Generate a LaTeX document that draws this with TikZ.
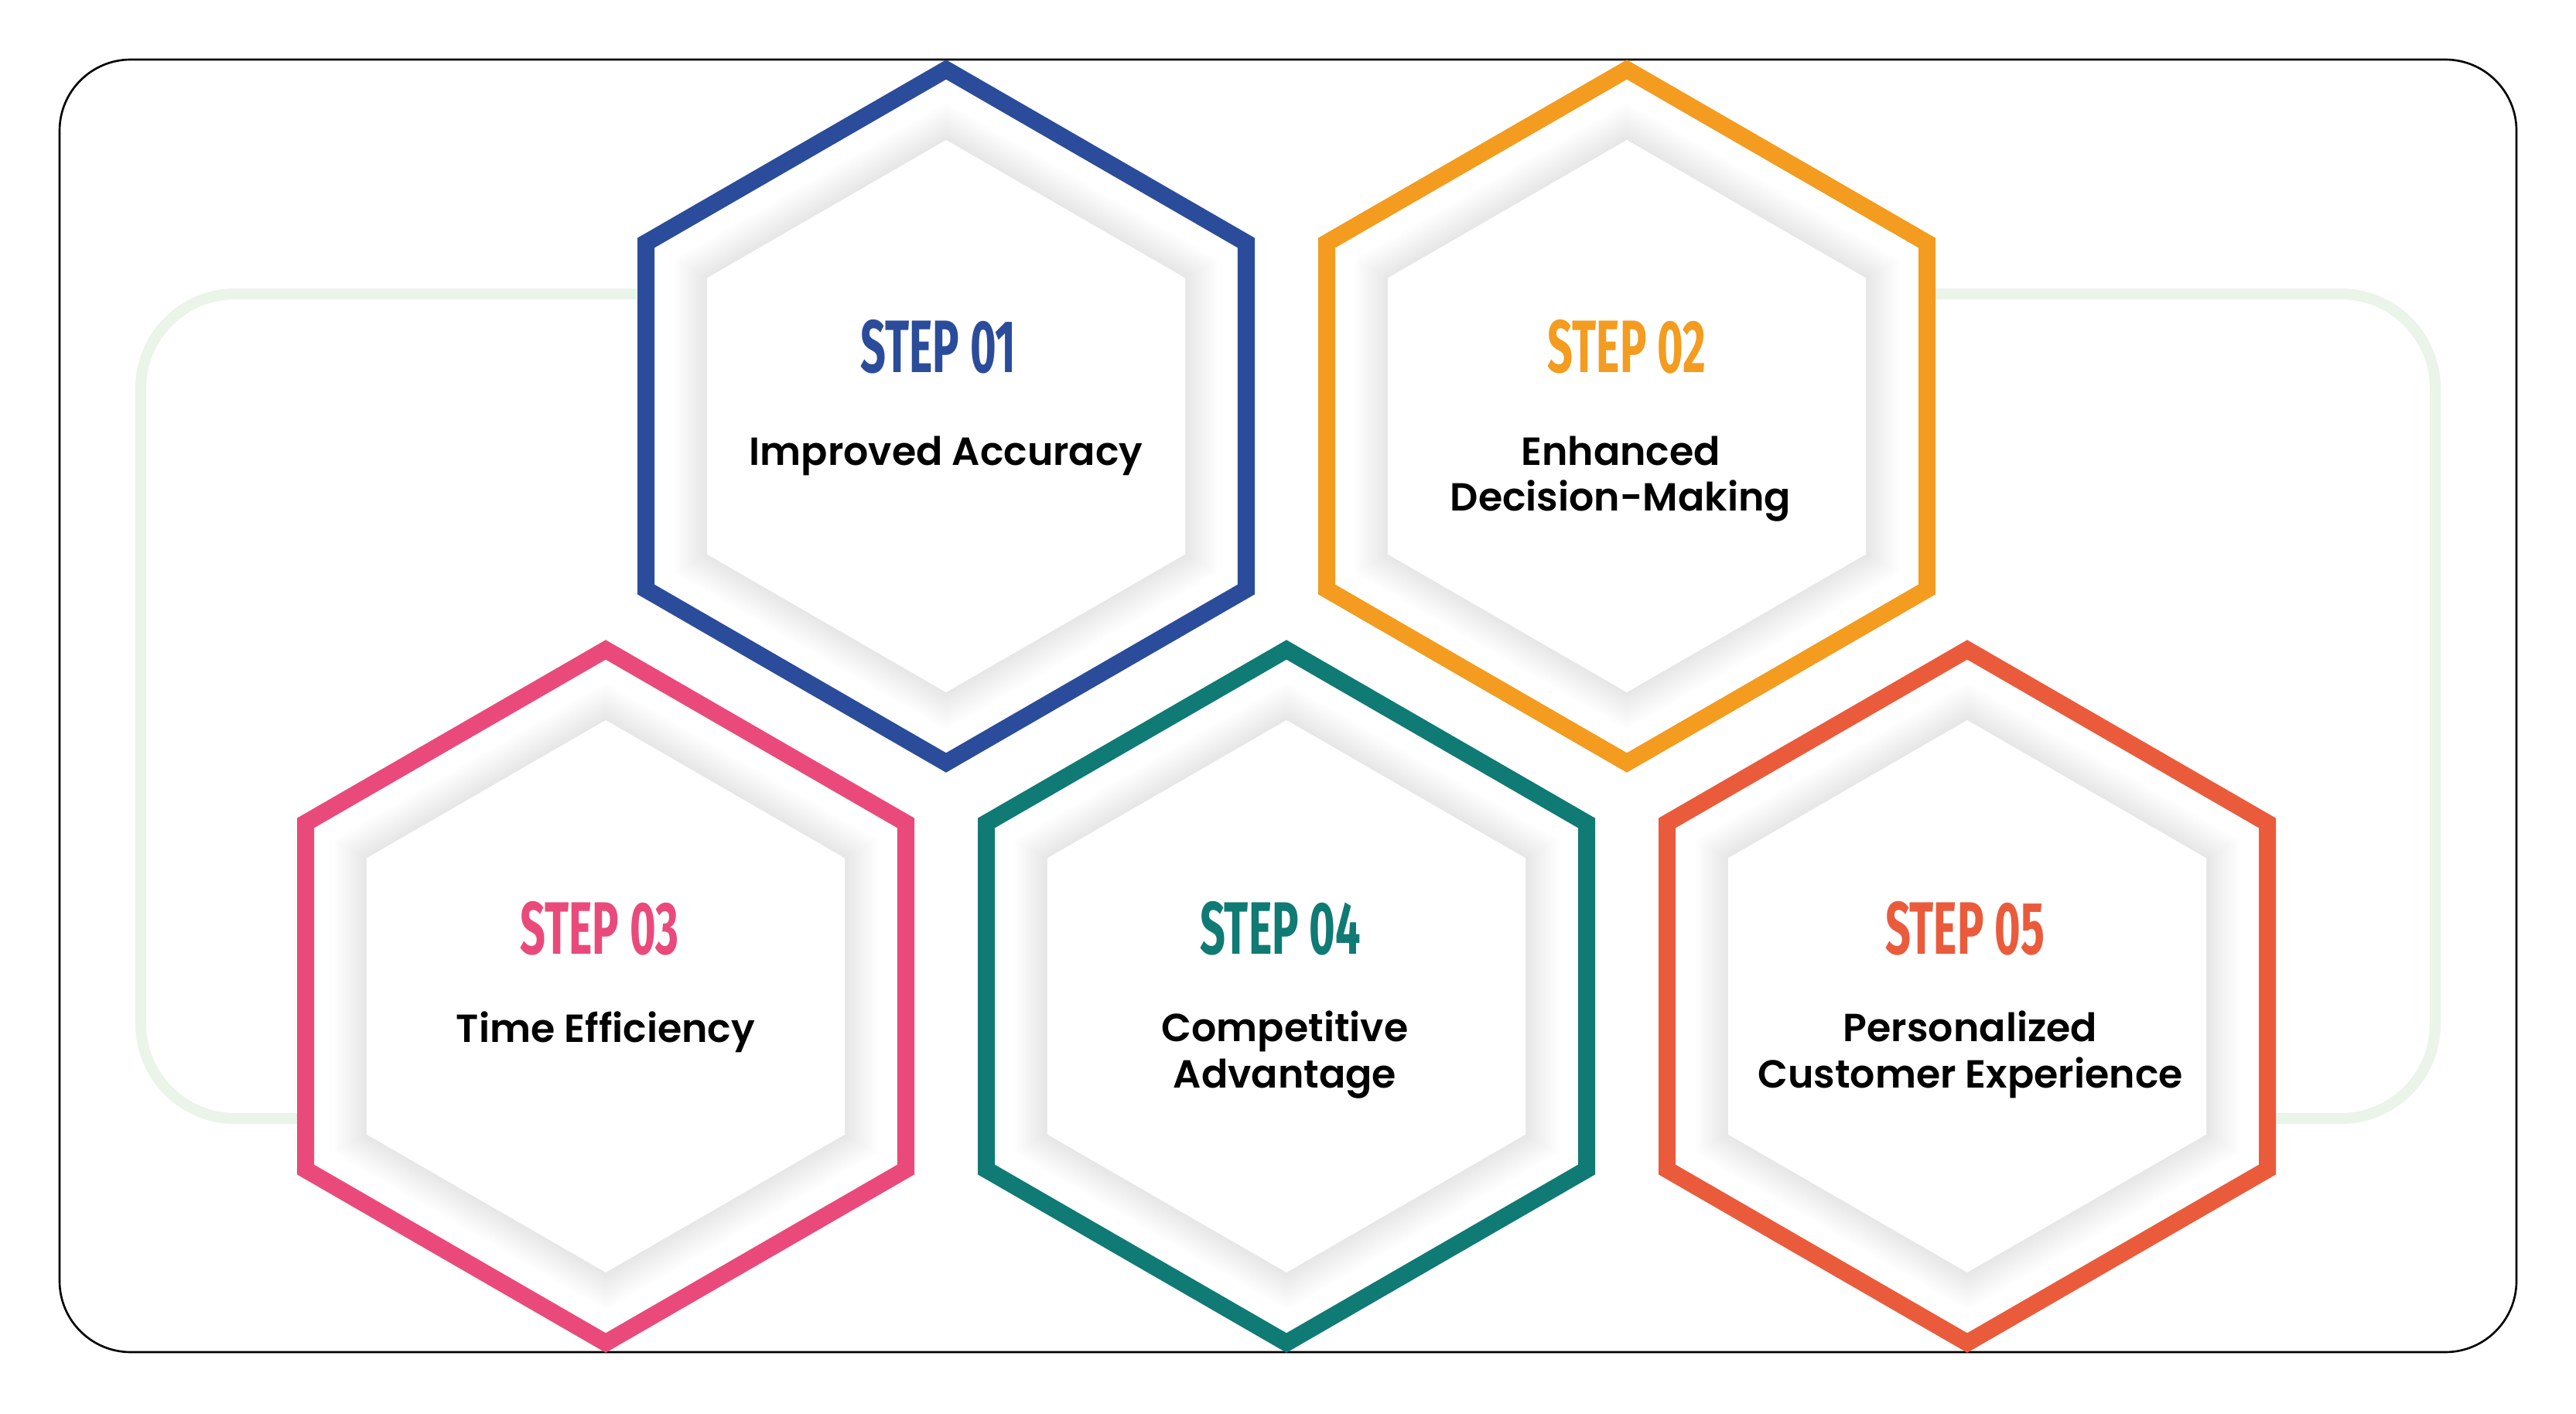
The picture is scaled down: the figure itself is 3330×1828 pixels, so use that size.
\documentclass[tikz,border=0pt]{standalone}
\usepackage{fontspec}
\setmainfont{Poppins}[BoldFont={Poppins SemiBold}]
\newfontfamily\stepfont[FakeStretch=0.6]{Fira Sans}
\definecolor{cblue}{HTML}{2B4C9A}
\definecolor{corange}{HTML}{F39C1F}
\definecolor{cpink}{HTML}{EA4A7B}
\definecolor{cteal}{HTML}{107A74}
\definecolor{cred}{HTML}{EA5B3C}
\definecolor{cgreen}{HTML}{EAF4E9}
\tikzset{
  frame/.style={draw=black, line width=0.75pt, rounded corners=0.92cm},
  greenline/.style={draw=cgreen, line width=4pt, rounded corners=1.22cm},
  hexline/.style={line width=6.26pt, fill=white, line join=miter},
  steplabel/.style={font=\stepfont\bfseries\fontsize{27.3}{30}\selectfont, anchor=base, inner sep=0pt},
  bodylabel/.style={font=\bfseries\fontsize{14.4}{16.8}\selectfont, anchor=base, align=center, inner sep=0pt, text=black}
}
\newcommand{\hexagonpath}[1]{(30:#1) -- (90:#1) -- (150:#1) -- (210:#1) -- (270:#1) -- (330:#1) -- cycle}
\newcommand{\stephex}[3]{%
  \draw[hexline, draw=#3, shift={(#1,#2)}] \hexagonpath{448};
  \foreach \k in {1,...,12}{
    \fill[black, opacity=0.008, shift={(#1,#2)}] \hexagonpath{357+\k*4};
  }
  \fill[white, shift={(#1,#2)}] \hexagonpath{357};
}
\begin{document}
\begin{tikzpicture}[x=0.01cm, y=-0.01cm]
\useasboundingbox (0,0) rectangle (3330,1828);
\fill[white] (0,0) rectangle (3330,1828);
\draw[frame] (77,77) rectangle (3253,1748);
% green background track
\draw[greenline] (823,380) -- (182,380) -- (182,1446) -- (384,1446);
\draw[greenline] (2502,380) -- (3148,380) -- (3148,1446) -- (2942,1446);
% hexagons
\stephex{1223}{538}{cblue}
\stephex{2103}{538}{corange}
\stephex{783}{1288}{cpink}
\stephex{1663}{1288}{cteal}
\stephex{2543}{1288}{cred}
% labels (multi-line nodes: base = baseline of last line)
\node[steplabel, text=cblue] (s1) at (1213,482) {STEP 01};
\node[bodylabel] (t1) at (1223,602) {Improved Accuracy};
\node[steplabel, text=corange] (s2) at (2103,482) {STEP 02};
\node[bodylabel] (t2) at (2095,661) {Enhanced\\Decision-Making};
\node[steplabel, text=cpink] (s3) at (775,1233) {STEP 03};
\node[bodylabel] (t3) at (783,1347) {Time Efficiency};
\node[steplabel, text=cteal] (s4) at (1655,1233) {STEP 04};
\node[bodylabel] (t4) at (1661,1406) {Competitive\\Advantage};
\node[steplabel, text=cred] (s5) at (2540,1233) {STEP 05};
\node[bodylabel] (t5) at (2547,1406) {Personalized\\Customer Experience};
\end{tikzpicture}
\end{document}
